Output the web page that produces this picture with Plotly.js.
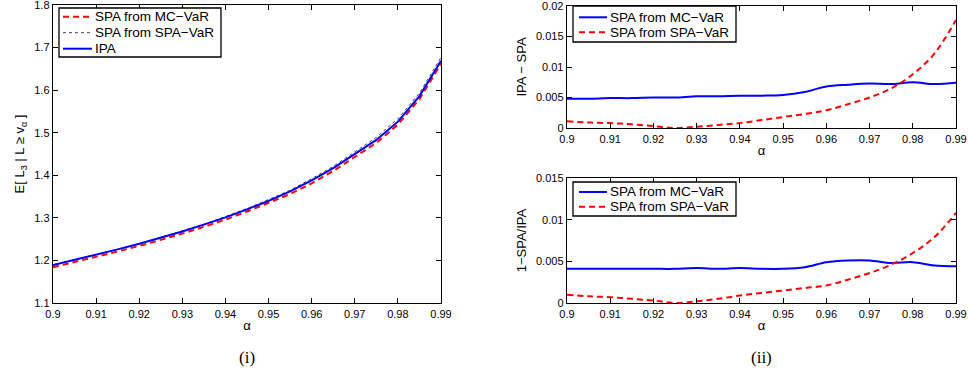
<!DOCTYPE html>
<html><head><meta charset="utf-8">
<script src="https://cdn.plot.ly/plotly-3.0.1.min.js"></script>
<style>html,body{margin:0;padding:0;background:#fff}#g{width:969px;height:383px}</style>
</head><body><div id="g"></div>
<script>
const alpha = [0.900,0.905,0.910,0.915,0.920,0.925,0.930,0.935,0.940,0.945,0.950,0.955,0.960,0.965,0.970,0.975,0.980,0.985,0.990];
// left panel: E[L3 | L >= v_alpha]
const ipa      = [1.189,1.201,1.213,1.226,1.239,1.253,1.268,1.284,1.301,1.320,1.340,1.362,1.388,1.417,1.450,1.483,1.526,1.586,1.669];
const spaMC    = [1.184,1.196,1.208,1.221,1.234,1.248,1.263,1.279,1.296,1.315,1.335,1.356,1.381,1.410,1.443,1.476,1.519,1.579,1.662];
const spaSPA   = [1.189,1.201,1.213,1.226,1.239,1.254,1.269,1.285,1.303,1.322,1.343,1.365,1.392,1.421,1.455,1.489,1.533,1.593,1.677];
// right top: IPA - SPA
const diffMC   = [0.0048,0.0048,0.0049,0.0049,0.0050,0.0050,0.0052,0.0052,0.0053,0.0053,0.0054,0.0059,0.0068,0.0071,0.0073,0.0072,0.0075,0.0072,0.0074];
const diffSPA  = [0.0011,0.0009,0.0008,0.0006,0.0003,0.0000,0.0002,0.0005,0.0008,0.0013,0.0018,0.0023,0.0029,0.0039,0.0050,0.0065,0.0088,0.0122,0.0177];
// right bottom: 1 - SPA/IPA
const relMC    = [0.0041,0.0041,0.0041,0.0041,0.0041,0.0041,0.0042,0.0041,0.0042,0.0041,0.0041,0.0043,0.0049,0.0051,0.0051,0.0048,0.0049,0.0045,0.0044];
const relSPA   = [0.0010,0.0008,0.0007,0.0005,0.0003,0.0000,0.0002,0.0005,0.0009,0.0012,0.0015,0.0018,0.0021,0.0028,0.0036,0.0046,0.0060,0.0079,0.0108];

const xTicks = [0.9,0.91,0.92,0.93,0.94,0.95,0.96,0.97,0.98,0.99];
const xTickText = ["0.9","0.91","0.92","0.93","0.94","0.95","0.96","0.97","0.98","0.99"];
const yLeftTicks = [1.1,1.2,1.3,1.4,1.5,1.6,1.7,1.8];
const yLeftText = ["1.1","1.2","1.3","1.4","1.5","1.6","1.7","1.8"];
const yTopTicks = [0,0.005,0.01,0.015,0.02];
const yTopText = ["0","0.005","0.01","0.015","0.02"];
const yBotTicks = [0,0.005,0.01,0.015];
const yBotText = ["0","0.005","0.01","0.015"];
const leftNames = ['SPA from MC\u2212VaR', 'SPA from SPA\u2212VaR', 'IPA'];
const rightNames = ['SPA from MC\u2212VaR', 'SPA from SPA\u2212VaR'];

const RED = '#ff0000', BLUE = '#0000ff', DOT = '#444';
const FONT = 'Liberation Sans, Arial, sans-serif';
const DASH = '6px,4px';

const leftStyles = [{color: RED, width: 2, dash: DASH}, {color: DOT, width: 1, dash: 'dot'}, {color: BLUE, width: 2}];
const rightStyles = [{color: BLUE, width: 2}, {color: RED, width: 2, dash: DASH}];

const traces = [
  {x: alpha, y: spaMC, name: leftNames[0], mode: 'lines', line: leftStyles[0], xaxis: 'x', yaxis: 'y'},
  {x: alpha, y: spaSPA, name: leftNames[1], mode: 'lines', line: leftStyles[1], xaxis: 'x', yaxis: 'y'},
  {x: alpha, y: ipa, name: leftNames[2], mode: 'lines', line: leftStyles[2], xaxis: 'x', yaxis: 'y'},
  {x: alpha, y: diffMC, name: rightNames[0], mode: 'lines', line: Object.assign({shape: 'spline'}, rightStyles[0]), xaxis: 'x2', yaxis: 'y2'},
  {x: alpha, y: diffSPA, name: rightNames[1], mode: 'lines', line: Object.assign({shape: 'spline'}, rightStyles[1]), xaxis: 'x2', yaxis: 'y2'},
  {x: alpha, y: relMC, name: rightNames[0], mode: 'lines', line: Object.assign({shape: 'spline'}, rightStyles[0]), xaxis: 'x3', yaxis: 'y3'},
  {x: alpha, y: relSPA, name: rightNames[1], mode: 'lines', line: Object.assign({shape: 'spline'}, rightStyles[1]), xaxis: 'x3', yaxis: 'y3'}
];

function xax(domain, anchor) {
  return {domain: domain, anchor: anchor, range: [0.9, 0.99], tickvals: xTicks, ticktext: xTickText,
    ticks: 'inside', ticklen: 5, tickcolor: '#000', showline: true, linecolor: '#000', linewidth: 1.3, mirror: 'ticks',
    showgrid: false, zeroline: false, tickfont: {family: FONT, size: 11, color: '#000'}, ticklabeloverflow: 'allow',
    title: {text: 'α', font: {family: FONT, size: 13, color: '#000'}, standoff: 2}};
}
function yax(domain, anchor, range, tv, tt, title) {
  return {domain: domain, anchor: anchor, range: range, tickvals: tv, ticktext: tt,
    ticks: 'inside', ticklen: 5, tickcolor: '#000', showline: true, linecolor: '#000', linewidth: 1.3, mirror: 'ticks',
    showgrid: false, zeroline: false, tickfont: {family: FONT, size: 11, color: '#000'}, ticklabeloverflow: 'allow',
    title: {text: title, font: {family: FONT, size: 13, color: '#000'}, standoff: 6}};
}

const W = 969, H = 383;
const px = v => v / W, py = v => 1 - v / H;

// hand-drawn legends (box, line samples, labels) in paper coordinates
const shapes = [], annotations = [];
function legendBox(x0, y0, x1, y1, names, styles, rowYs, sx0, sx1, tx) {
  shapes.push({type: 'rect', xref: 'paper', yref: 'paper', x0: px(x0), x1: px(x1), y0: py(y1), y1: py(y0),
    line: {color: '#000', width: 1.3}, fillcolor: '#fff', layer: 'above'});
  names.forEach((n, i) => {
    shapes.push({type: 'line', xref: 'paper', yref: 'paper', x0: px(sx0), x1: px(sx1), y0: py(rowYs[i]), y1: py(rowYs[i]),
      line: {color: styles[i].color, width: styles[i].width, dash: styles[i].dash || 'solid'}, layer: 'above'});
    annotations.push({text: n, xref: 'paper', yref: 'paper', x: px(tx), y: py(rowYs[i]), xanchor: 'left', yanchor: 'middle',
      showarrow: false, font: {family: FONT, size: 13.5, color: '#000'}});
  });
}
legendBox(59, 8, 221, 57, leftNames, leftStyles, [16.7, 32.7, 48.7], 63, 92, 93);
legendBox(573, 6, 736, 42, rightNames, rightStyles, [17.3, 32.3], 579, 607, 608);
legendBox(573, 182, 736, 216, rightNames, rightStyles, [192, 206.7], 579, 607, 608);

annotations.push(
  {text: '(i)', xref: 'paper', yref: 'paper', x: px(247), y: py(357), xanchor: 'center', yanchor: 'middle', showarrow: false, font: {family: 'Liberation Serif, serif', size: 17, color: '#000'}},
  {text: '(ii)', xref: 'paper', yref: 'paper', x: px(761), y: py(357), xanchor: 'center', yanchor: 'middle', showarrow: false, font: {family: 'Liberation Serif, serif', size: 17, color: '#000'}}
);

const layout = {
  width: W, height: H, margin: {l: 0, r: 0, t: 0, b: 0}, paper_bgcolor: '#fff', plot_bgcolor: '#fff',
  showlegend: false,
  xaxis: xax([px(53), px(441)], 'y'),
  yaxis: yax([py(303), py(5)], 'x', [1.1, 1.8], yLeftTicks, yLeftText, 'E[ L<sub>3</sub> | L ≥ v<sub>α</sub> ]'),
  xaxis2: xax([px(567), px(956)], 'y2'),
  yaxis2: yax([py(128), py(6)], 'x2', [0, 0.02], yTopTicks, yTopText, 'IPA − SPA'),
  xaxis3: xax([px(567), px(956)], 'y3'),
  yaxis3: yax([py(303), py(178)], 'x3', [0, 0.015], yBotTicks, yBotText, '1−SPA/IPA'),
  shapes: shapes,
  annotations: annotations
};
Plotly.newPlot('g', traces, layout, {displayModeBar: false, staticPlot: true});
</script></body></html>
